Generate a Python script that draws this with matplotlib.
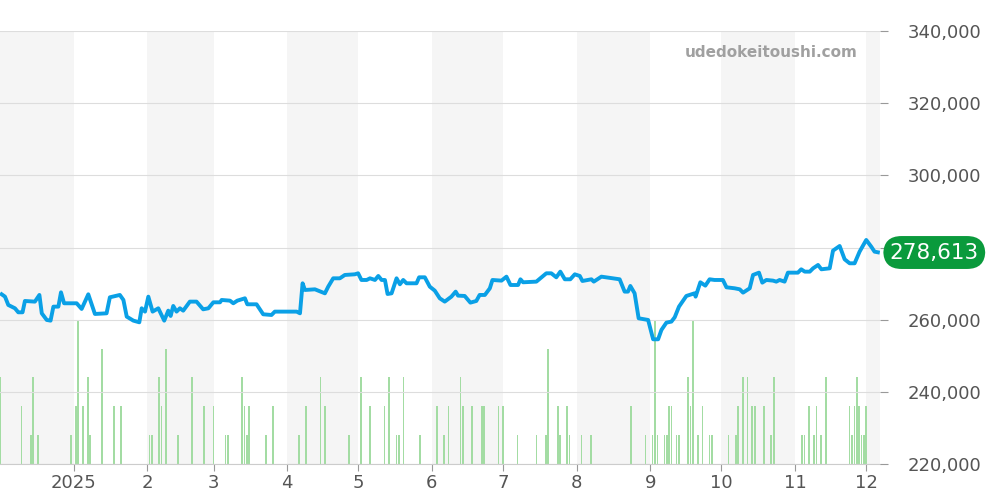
import matplotlib
matplotlib.use("Agg")
import matplotlib.pyplot as plt
import matplotlib.dates as mdates
import numpy as np
import datetime as dt

# price series: days since 2024-12-01, price (JPY)
price_days = [0.7,2.1,3.5,4.9,6.3,7.7,9.5,10.5,14.7,16.6,17.6,19.7,21.3,22.5,24.6,25.7,27.0,32.3,34.4,37.2,40.0,44.9,46.3,50.5,52.0,53.4,56.2,58.7,59.7,61.1,62.5,64.3,66.7,69.2,70.9,71.9,73.0,74.4,75.8,77.2,80.0,82.8,85.6,87.8,89.9,92.7,93.4,96.9,98.3,100.0,103.2,104.2,108.1,110.9,114.4,115.8,125.0,126.4,127.5,128.5,132.7,136.9,138.3,140.4,143.2,145.3,149.5,150.9,152.3,154.5,155.9,158.0,159.4,160.8,162.2,163.3,165.0,167.1,168.5,169.9,171.3,175.5,176.6,179.0,181.1,183.2,185.3,187.4,190.2,192.0,193.0,195.8,198.2,200.7,202.1,204.3,206.4,207.5,211.3,213.4,215.1,218.3,219.3,220.4,226.0,230.2,232.3,234.4,236.1,238.0,240.3,242.2,244.3,245.4,249.2,250.2,253.4,261.1,263.2,264.6,265.6,267.4,269.1,273.1,275.2,277.3,278.7,280.8,282.9,284.3,286.1,289.2,292.7,293.1,295.1,297.2,299.0,301.1,304.6,306.1,309.6,311.7,313.1,315.9,317.3,319.8,321.2,322.9,325.7,327.1,328.5,330.6,332.0,336.2,337.6,339.1,341.2,342.6,344.7,346.1,349.6,351.0,353.8,355.9,358.0,360.1,362.2,365.0,367.1,368.5,369.9]
price_vals = [267030,266380,264070,263610,263150,262040,262040,265180,265000,266850,261760,259920,259730,263610,263610,267580,264540,264540,262970,267030,261580,261760,266200,266850,265460,260840,259730,259270,263150,262230,266380,262230,263150,259730,262500,261030,263800,262230,263150,262500,265000,265000,262870,263150,264810,264810,265460,265270,264540,265270,265920,264260,264260,261490,261300,262230,262230,261760,270080,268230,268410,267300,269150,271460,271460,272390,272570,272850,271000,271000,271460,271000,272110,271000,271000,267120,267300,271460,269800,271000,270080,270080,271740,271740,269150,268040,265920,265000,266380,267770,266660,266570,264720,265180,266850,266850,268690,271000,270820,271920,269610,269610,271190,270360,270540,272850,272850,271740,273310,271190,271190,272570,272110,270720,271190,270540,271920,271190,267770,267770,269340,267310,260380,259920,254560,254560,257150,259180,259460,260660,263610,266570,267310,266380,270360,269430,271190,271000,271000,268970,268690,268410,267490,268690,272390,273030,270260,271000,270820,270540,271000,270540,273030,273030,273960,273310,273310,274230,275160,273960,274230,279130,280420,276730,275620,275620,278850,282090,280240,278850,278670]

# listing counts: days since 2024-12-01, count
bar_days = [0,9,13,14,16,30,32,33,35,37,38,43,48,51,63,64,67,68,70,75,81,86,90,95,96,102,103,104,105,112,115,126,129,135,137,147,152,156,162,164,167,168,170,177,184,187,189,194,195,199,203,204,210,212,218,226,230,231,235,236,239,240,245,249,266,272,275,276,277,280,281,282,283,285,286,290,291,292,294,296,299,300,307,310,311,313,315,317,318,322,325,326,338,339,341,343,344,346,348,358,359,360,361,362,363,364,365]
bar_vals = [3,2,1,3,1,1,2,5,2,3,1,4,2,2,1,1,3,2,4,1,3,2,2,1,1,3,2,1,2,1,2,1,2,3,2,1,3,2,2,3,1,1,3,1,2,1,2,3,2,2,2,2,2,2,1,1,1,4,2,1,2,1,1,1,2,1,1,5,1,1,1,2,2,1,1,3,2,5,1,2,1,1,1,1,2,3,3,2,2,2,1,3,1,1,2,1,2,1,3,2,1,2,3,2,1,1,2]

last_price = 278613
month_labels = ["2025","2","3","4","5","6","7","8","9","10","11","12"]
price_ticks = [220000, 240000, 260000, 280000, 300000, 320000, 340000]

base = dt.datetime(2024, 12, 1)
b0 = mdates.date2num(base)
px = b0 + np.array(price_days)
bx = b0 + np.array(bar_days)

fig = plt.figure(figsize=(10, 5), dpi=100)
ax = fig.add_axes([0.0, 0.072, 0.88, 0.866])
ax2 = ax.twinx()

xmin, xmax = b0, b0 + 370.8
months = [dt.datetime(2024, 12, 1)] + [dt.datetime(2025, m, 1) for m in range(1, 13)] + [dt.datetime(2026, 1, 1)]
for i in range(0, len(months) - 1, 2):
    ax.axvspan(mdates.date2num(months[i]), mdates.date2num(months[i + 1]), color="#f5f5f5", zorder=0, lw=0)

ax.bar(bx, bar_vals, width=0.7, color="#a3dca3", zorder=2)
ax.set_ylim(0, 15)
ax.set_yticks([])

ax2.plot(px, price_vals, color="#0aa0e6", lw=2.8, zorder=3, solid_joinstyle="round")
ax2.set_ylim(220000, 340000)
ax2.set_yticks(price_ticks)
# the 280,000 label is hidden behind the last-price badge in the original
ax2.set_yticklabels([f"{v:,}" if abs(v - last_price) > 8000 else "" for v in price_ticks],
                    fontsize=13, color="#555555")
ax2.grid(axis="y", color="#dddddd", lw=0.8)
ax2.tick_params(axis="y", length=6, color="#999999", pad=14)
ax.set_xlim(xmin, xmax)
ax2.set_xlim(xmin, xmax)

ax.set_xticks([mdates.date2num(dt.datetime(2025, m, 1)) for m in range(1, 13)])
ax.set_xticklabels(month_labels, fontsize=13, color="#555555")
ax.tick_params(axis="x", length=5, color="#999999", pad=2)
ax.grid(False)

for a in (ax, ax2):
    for s in a.spines.values():
        s.set_visible(False)
ax.spines["bottom"].set_visible(True)
ax.spines["bottom"].set_color("#cccccc")

ax2.text(0.975, 0.95, "udedokeitoushi.com", transform=ax2.transAxes, ha="right", va="center",
         fontsize=11, fontweight="bold", color="#a0a0a0")

ax2.annotate(f"{last_price:,}", xy=(1.0, last_price), xycoords=("axes fraction", "data"),
             xytext=(7, 0), textcoords="offset points", ha="left", va="center",
             fontsize=15.5, color="white", zorder=10, annotation_clip=False,
             bbox=dict(boxstyle="round,pad=0.3,rounding_size=0.85", fc="#0a9a3c", ec="none"))

fig.savefig("out.png", dpi=100)
